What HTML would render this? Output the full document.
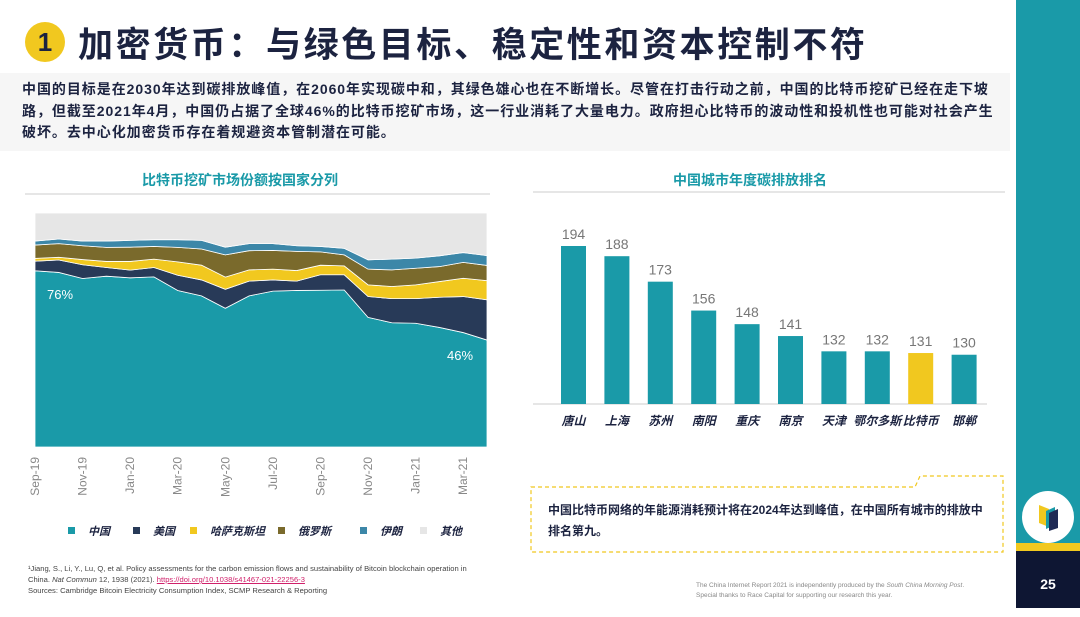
<!DOCTYPE html>
<html><head><meta charset="utf-8"><style>
body{margin:0;width:1080px;height:608px;position:relative;overflow:hidden;background:#fff;font-family:"Liberation Sans","Noto Sans CJK SC",sans-serif;}
.abs{position:absolute;}
</style></head><body>
<div class="abs" style="left:25px;top:22px;width:40px;height:40px;border-radius:50%;background:#f1c81f;color:#1c2340;font-weight:bold;font-size:26px;text-align:center;line-height:40px;">1</div>
<div class="abs" style="left:78px;top:17px;font-size:35px;font-weight:bold;color:#1c2340;letter-spacing:2.6px;white-space:nowrap;">加密货币：与绿色目标、稳定性和资本控制不符</div>
<div class="abs" style="left:0;top:73px;width:1010px;height:78px;background:#f6f6f6;"></div>
<div class="abs" style="left:22px;top:79px;font-size:14px;line-height:21.5px;font-weight:bold;color:#1c2340;white-space:nowrap;letter-spacing:0.95px;">中国的目标是在2030年达到碳排放峰值，在2060年实现碳中和，其绿色雄心也在不断增长。尽管在打击行动之前，中国的比特币挖矿已经在走下坡<br>路，但截至2021年4月，中国仍占据了全球46%的比特币挖矿市场，这一行业消耗了大量电力。政府担心比特币的波动性和投机性也可能对社会产生<br>破坏。去中心化加密货币存在着规避资本管制潜在可能。</div>

<div class="abs" style="left:1016px;top:0;width:64px;height:543px;background:#1a9aa8;"></div>
<div class="abs" style="left:1016px;top:543px;width:64px;height:8px;background:#f1c81f;"></div>
<div class="abs" style="left:1016px;top:551px;width:64px;height:57px;background:#0e1633;color:#fff;font-weight:bold;font-size:14px;text-align:center;line-height:66px;">25</div>
<div class="abs" style="left:1022px;top:491px;width:52px;height:52px;border-radius:50%;background:#fff;">
<svg width="52" height="52"><polygon points="17,14 27,18 27,36 17,32" fill="#f1c81f"/><polygon points="24,20 33,16 33,34 24,38" fill="#1a9aa8"/><polygon points="27,22 36,18 36,37 27,40" fill="#1f2a55"/></svg></div>

<svg class="abs" style="left:0;top:0" width="1010" height="608">
<text x="240" y="185" text-anchor="middle" font-size="14" font-weight="bold" fill="#1a9aa8">比特币挖矿市场份额按国家分列</text>
<line x1="25" y1="194" x2="490" y2="194" stroke="#ddd" stroke-width="1.5"/>
<text x="750" y="185" text-anchor="middle" font-size="14" font-weight="bold" fill="#1a9aa8">中国城市年度碳排放排名</text>
<line x1="533" y1="192" x2="1005" y2="192" stroke="#ddd" stroke-width="1.5"/>
<g id="area"></g><g id="bars"></g>
<path d="M531,487 H915 L920,476 H1003 V552 H531 Z" fill="none" stroke="#f1c81f" stroke-width="1.2" stroke-dasharray="4,3"/>
<text x="548" y="514" font-size="12" font-weight="bold" fill="#1c2340">中国比特币网络的年能源消耗预计将在2024年达到峰值，在中国所有城市的排放中</text>
<text x="548" y="535" font-size="12" font-weight="bold" fill="#1c2340">排名第九。</text>
</svg>

<div class="abs" style="left:28px;top:563px;font-size:7.6px;line-height:11px;color:#444;width:500px;">¹Jiang, S., Li, Y., Lu, Q, et al. Policy assessments for the carbon emission flows and sustainability of Bitcoin blockchain operation in<br>China. <i>Nat Commun</i> 12, 1938 (2021). <span style="color:#d0206a;text-decoration:underline;">https://doi.org/10.1038/s41467-021-22256-3</span><br>Sources: Cambridge Bitcoin Electricity Consumption Index, SCMP Research &amp; Reporting</div>
<div class="abs" style="left:696px;top:581px;font-size:6.5px;line-height:10px;color:#888;">The China Internet Report 2021 is independently produced by the <i>South China Morning Post</i>.<br>Special thanks to Race Capital for supporting our research this year.</div>

<script>
const months=["Sep-19","Oct-19","Nov-19","Dec-19","Jan-20","Feb-20","Mar-20","Apr-20","May-20","Jun-20","Jul-20","Aug-20","Sep-20","Oct-20","Nov-20","Dec-20","Jan-21","Feb-21","Mar-21","Apr-21"];
const china=[75.3,74.6,72,73,72.3,72.7,66.9,64.6,59.3,64.6,66.6,66.9,67,67.1,55.4,53.1,52.9,51.1,48.9,45.7];
const usa=[4.1,5.3,5.9,3.7,3.3,4,6.5,6.8,8.1,6.3,4.8,4,6.6,6.5,8.9,10.3,10.5,12.9,15.4,17.2];
const kaz=[1.2,1.2,2.2,2.6,3.7,3.6,5.7,6.3,5.2,4.8,4.6,4.5,4.1,3.8,5,5.2,5.9,6.7,7.8,8.2];
const russia=[5.7,5.8,5.9,6,6.1,5.4,6.2,6.9,9.5,8.2,8,8.2,5.7,4.7,6.7,7.1,7.1,6.4,6.8,6.5];
const iran=[1.7,2,2,2.7,2.9,2.9,3.3,3.7,3.3,3,2.9,2.4,2.3,2.8,4,4.6,4.3,4.6,4.2,4.2];
const seriesNames=["中国","美国","哈萨克斯坦","俄罗斯","伊朗","其他"];
const cities=["唐山","上海","苏州","南阳","重庆","南京","天津","鄂尔多斯","比特币","邯郸"];
const emissions=[194,188,173,156,148,141,132,132,131,130];

const NS="http://www.w3.org/2000/svg";
function mk(t,a,p){const e=document.createElementNS(NS,t);for(const k in a)e.setAttribute(k,a[k]);p.appendChild(e);return e;}
const ax0=35,ax1=487,ay0=447,ay1=213;
const xA=i=>ax0+i*(ax1-ax0)/(months.length-1);
const yA=v=>ay0-v/100*(ay0-ay1);
const area=document.getElementById('area');
const colors=["#1a9aa8","#283a58","#f1c81f","#7a6a2c","#3c87a8","#e6e6e6"];
const others=china.map((c,i)=>100-c-usa[i]-kaz[i]-russia[i]-iran[i]);
const layers=[china,usa,kaz,russia,iran,others];
let base=months.map(()=>0);
layers.forEach((L,k)=>{
  const top=base.map((b,i)=>b+L[i]);
  let d="M"+months.map((m,i)=>xA(i)+","+yA(top[i])).join(" L");
  d+=" L"+months.map((m,i)=>xA(i)+","+yA(base[i])).reverse().join(" L")+" Z";
  const p=mk('path',{d:d,fill:colors[k],stroke:"#fff","stroke-width":0.8},area);
  
  
  base=top;
});
mk('text',{x:xA(0)+12,y:yA(china[0])+28,"font-size":13,fill:"#fff"},area).textContent=Math.round(china[0]+0.7)+"%";
mk('text',{x:xA(19)-40,y:yA(china[19])+20,"font-size":13,fill:"#fff"},area).textContent=Math.round(china[19])+"%";
months.forEach((m,i)=>{if(i%2)return;
  const t=mk('text',{x:0,y:0,"font-size":12,fill:"#888","text-anchor":"end",transform:`translate(${xA(i)+4},${457}) rotate(-90)`},area);
  t.textContent=m;
  
  
});
const legX=[68,133,190,278,360,420];
seriesNames.forEach((n,k)=>{
  const g=mk('g',{},area);
  
  
  mk('rect',{x:legX[k],y:527,width:7,height:7,fill:colors[k]},g);
  mk('text',{x:legX[k]+20,y:535,"font-size":11,"font-weight":"bold","font-style":"italic",fill:"#1c2340"},g).textContent=n;
});
const bars=document.getElementById('bars');
const bx0=561,bstep=43.4,bw=25,by0=404,vmin=101,scale=158/(194-101);
const yB=v=>by0-(v-vmin)*scale;
mk('line',{x1:533,y1:by0,x2:987,y2:by0,stroke:"#ccc"},bars);
cities.forEach((c,i)=>{
  const x=bx0+i*bstep;
  const r=mk('rect',{x:x,y:yB(emissions[i]),width:bw,height:by0-yB(emissions[i]),fill:c==="比特币"?"#f1c81f":"#1a9aa8"},bars);
  
  
  mk('text',{x:x+bw/2,y:yB(emissions[i])-7,"font-size":14,fill:"#777","text-anchor":"middle"},bars).textContent=emissions[i];
  const t=mk('text',{x:x+bw/2,y:425,"font-size":12,"font-weight":"bold","font-style":"italic",fill:"#1c2340","text-anchor":"middle"},bars);
  t.textContent=c;
  
  
});
</script>
</body></html>
